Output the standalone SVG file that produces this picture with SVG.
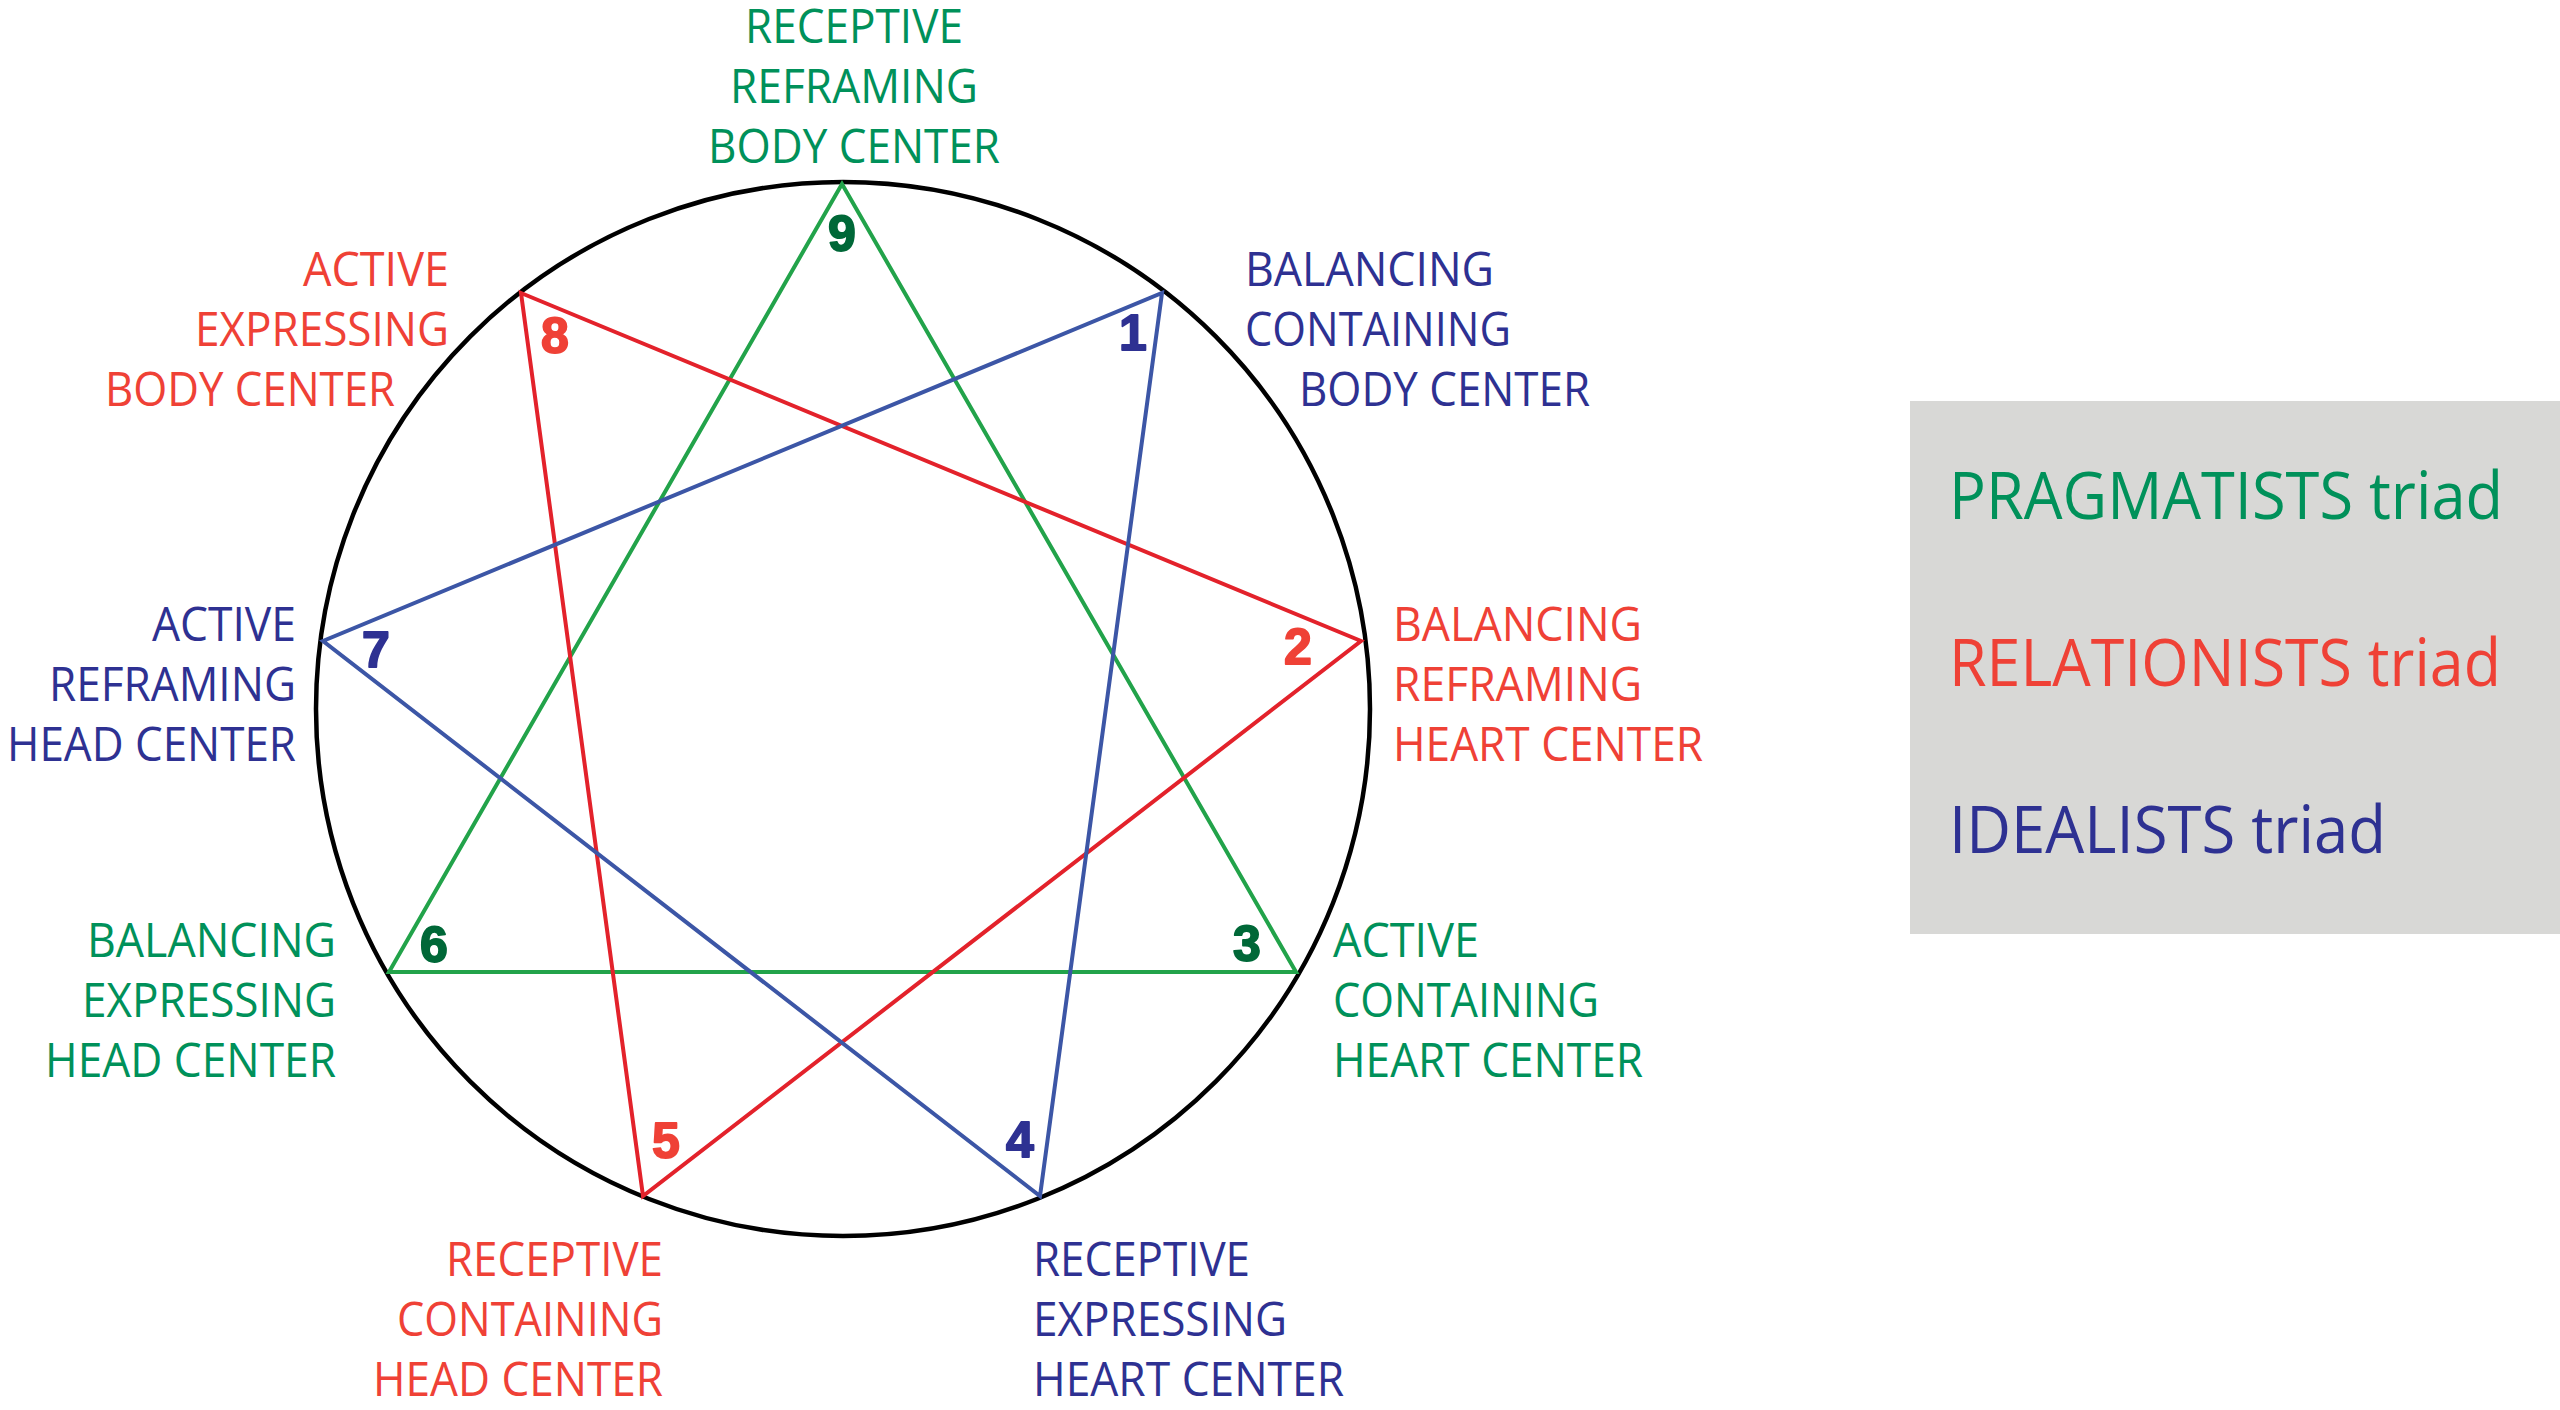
<svg xmlns="http://www.w3.org/2000/svg" width="2560" height="1410" viewBox="0 0 2560 1410">
<style>
.lbl{font-family:"Open Sans","Liberation Sans",sans-serif;font-size:48px}
.num{font-family:"Liberation Sans",Arial,sans-serif;font-weight:bold;font-size:50px;text-anchor:middle;stroke-width:1.8;stroke-linejoin:round}
.leg{font-family:"Open Sans","Liberation Sans",sans-serif;font-size:66px}
.g{fill:#00915a}.r{fill:#ef4136}.b{fill:#2e3192}
.num.r{stroke:#ef4136}.num.b{stroke:#2e3192}
.gn{fill:#006838;stroke:#006838}
.ln{fill:none;stroke-width:4;stroke-linejoin:miter;stroke-miterlimit:20}
.end{text-anchor:end}.mid{text-anchor:middle}
</style>
<rect width="2560" height="1410" fill="#ffffff"/>
<circle cx="843" cy="709" r="527" fill="none" stroke="#000000" stroke-width="4.5"/>
<g id="connectors">
<polygon class="ln" stroke="#22a34a" points="842,184 1296,972 389,972"/>
<polygon class="ln" stroke="#e3222b" points="521,293 1361,641 643,1196"/>
<polygon class="ln" stroke="#3c56a6" points="1162,293 1040,1196 323,641"/>
</g>
<g id="node9">
<text class="num gn" x="842" y="251">9</text>
<text class="lbl g mid" x="854" y="43" textLength="218" lengthAdjust="spacingAndGlyphs">RECEPTIVE</text>
<text class="lbl g mid" x="854" y="103" textLength="248" lengthAdjust="spacingAndGlyphs">REFRAMING</text>
<text class="lbl g mid" x="854" y="163" textLength="292" lengthAdjust="spacingAndGlyphs">BODY CENTER</text>
</g>
<g id="node1">
<text class="num b" x="1133" y="350">1</text>
<text class="lbl b" x="1245" y="286" textLength="249" lengthAdjust="spacingAndGlyphs">BALANCING</text>
<text class="lbl b" x="1245" y="346" textLength="266" lengthAdjust="spacingAndGlyphs">CONTAINING</text>
<text class="lbl b" x="1299" y="406" textLength="291" lengthAdjust="spacingAndGlyphs">BODY CENTER</text>
</g>
<g id="node2">
<text class="num r" x="1298" y="664">2</text>
<text class="lbl r" x="1393" y="641" textLength="249" lengthAdjust="spacingAndGlyphs">BALANCING</text>
<text class="lbl r" x="1393" y="701" textLength="249" lengthAdjust="spacingAndGlyphs">REFRAMING</text>
<text class="lbl r" x="1393" y="761" textLength="310" lengthAdjust="spacingAndGlyphs">HEART CENTER</text>
</g>
<g id="node3">
<text class="num gn" x="1247" y="961">3</text>
<text class="lbl g" x="1333" y="957" textLength="146" lengthAdjust="spacingAndGlyphs">ACTIVE</text>
<text class="lbl g" x="1333" y="1017" textLength="266" lengthAdjust="spacingAndGlyphs">CONTAINING</text>
<text class="lbl g" x="1333" y="1077" textLength="310" lengthAdjust="spacingAndGlyphs">HEART CENTER</text>
</g>
<g id="node4">
<text class="num b" x="1020" y="1157">4</text>
<text class="lbl b" x="1033" y="1276" textLength="217" lengthAdjust="spacingAndGlyphs">RECEPTIVE</text>
<text class="lbl b" x="1033" y="1336" textLength="254" lengthAdjust="spacingAndGlyphs">EXPRESSING</text>
<text class="lbl b" x="1033" y="1396" textLength="311" lengthAdjust="spacingAndGlyphs">HEART CENTER</text>
</g>
<g id="node5">
<text class="num r" x="666" y="1158">5</text>
<text class="lbl r end" x="663" y="1276" textLength="217" lengthAdjust="spacingAndGlyphs">RECEPTIVE</text>
<text class="lbl r end" x="663" y="1336" textLength="266" lengthAdjust="spacingAndGlyphs">CONTAINING</text>
<text class="lbl r end" x="663" y="1396" textLength="290" lengthAdjust="spacingAndGlyphs">HEAD CENTER</text>
</g>
<g id="node6">
<text class="num gn" x="434" y="962">6</text>
<text class="lbl g end" x="336" y="957" textLength="249" lengthAdjust="spacingAndGlyphs">BALANCING</text>
<text class="lbl g end" x="336" y="1017" textLength="254" lengthAdjust="spacingAndGlyphs">EXPRESSING</text>
<text class="lbl g end" x="336" y="1077" textLength="291" lengthAdjust="spacingAndGlyphs">HEAD CENTER</text>
</g>
<g id="node7">
<text class="num b" x="376" y="667">7</text>
<text class="lbl b end" x="296" y="641" textLength="144" lengthAdjust="spacingAndGlyphs">ACTIVE</text>
<text class="lbl b end" x="296" y="701" textLength="247" lengthAdjust="spacingAndGlyphs">REFRAMING</text>
<text class="lbl b end" x="296" y="761" textLength="289" lengthAdjust="spacingAndGlyphs">HEAD CENTER</text>
</g>
<g id="node8">
<text class="num r" x="555" y="353">8</text>
<text class="lbl r end" x="449" y="286" textLength="146" lengthAdjust="spacingAndGlyphs">ACTIVE</text>
<text class="lbl r end" x="449" y="346" textLength="254" lengthAdjust="spacingAndGlyphs">EXPRESSING</text>
<text class="lbl r end" x="395" y="406" textLength="290" lengthAdjust="spacingAndGlyphs">BODY CENTER</text>
</g>
<g id="legend">
<rect x="1910" y="401" width="650" height="533" fill="#d8d8d6"/>
<text class="leg g" x="1949" y="519" textLength="554" lengthAdjust="spacingAndGlyphs">PRAGMATISTS triad</text>
<text class="leg r" x="1949" y="686" textLength="552" lengthAdjust="spacingAndGlyphs">RELATIONISTS triad</text>
<text class="leg b" x="1949" y="853" textLength="437" lengthAdjust="spacingAndGlyphs">IDEALISTS triad</text>
</g>
</svg>
